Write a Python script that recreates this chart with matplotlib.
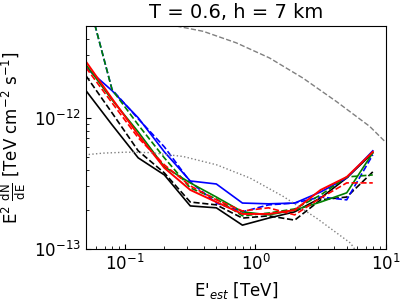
import numpy as np
import matplotlib
matplotlib.use("Agg")
import matplotlib.pyplot as plt

# energy bins [TeV]
energy = [0.0501, 0.0794, 0.126, 0.200, 0.316, 0.501, 0.794, 1.26, 2.00, 3.16, 5.01, 7.94]

# sensitivity curves [1e-12 TeV cm^-2 s^-1]
black_solid = [1.61, 0.884, 0.495, 0.367, 0.213, 0.206, 0.152, 0.172, 0.192, 0.245, 0.348, 0.541]
black_dash  = [2.09, 1.09, 0.560, 0.380, 0.228, 0.217, 0.172, 0.179, 0.166, 0.237, 0.249, 0.387]
red_solid   = [2.68, 1.40, 0.742, 0.415, 0.282, 0.228, 0.185, 0.185, 0.198, 0.282, 0.354, 0.550]
red_dash    = [2.41, 1.30, 0.704, 0.438, 0.303, 0.237, 0.195, 0.206, 0.182, 0.245, 0.319, 0.319]
green_solid = [2.54, 1.37, 0.782, 0.423, 0.319, 0.249, 0.192, 0.182, 0.198, 0.228, 0.268, 0.541]
green_dash  = [9.2, 1.64, 0.884, 0.495, 0.292, 0.241, 0.179, 0.188, 0.202, 0.258, 0.354, 0.367]
blue_solid  = [2.41, 1.61, 1.00, 0.550, 0.330, 0.313, 0.224, 0.221, 0.224, 0.272, 0.348, 0.560]
blue_dash   = [9.2, 1.64, 0.983, 0.600, 0.325, 0.224, 0.192, 0.217, 0.224, 0.249, 0.237, 0.522]

# reference spectra
ref1_energy = [0.218, 0.398, 0.711, 1.28, 2.31, 4.18, 7.53, 9.82]
ref1_flux   = [5.13e-12, 4.56e-12, 3.73e-12, 2.86e-12, 2.01e-12, 1.33e-12, 8.59e-13, 6.61e-13]
ref2_energy = [0.0492, 0.0678, 0.102, 0.155, 0.279, 0.504, 0.910, 1.64, 2.96, 5.35, 5.98, 8.0]
ref2_flux   = [5.22e-13, 5.38e-13, 5.47e-13, 5.43e-13, 5.07e-13, 4.38e-13, 3.47e-13,
               2.51e-13, 1.71e-13, 1.11e-13, 9.5e-14, 6.3e-14]

series = [
    (black_solid, 'k', '-', 1.2),
    (black_dash, 'k', '--', 1.2),
    (blue_solid, 'b', '-', 1.2),
    (blue_dash, 'b', '--', 1.2),
    (green_solid, 'g', '-', 1.2),
    (green_dash, 'g', '--', 1.2),
    (red_dash, 'r', '--', 1.2),
    (red_solid, 'r', '-', 1.4),
]

fig = plt.figure(figsize=(4.07, 3.0), dpi=100)
ax = fig.add_axes([0.211, 0.17, 0.737, 0.743])

e = np.array(energy)
for vals, c, ls, lw in series:
    ax.plot(e, np.array(vals) * 1e-12, color=c, ls=ls, lw=lw)

ax.plot(ref1_energy, ref1_flux, color='gray', ls='--', lw=1.0)
ax.plot(ref2_energy, ref2_flux, color='gray', ls=':', lw=1.0)

ax.set_xscale('log')
ax.set_yscale('log')
ax.set_xlim(0.05, 10)
ax.set_ylim(1e-13, 5e-12)
ax.tick_params(which='both', direction='in', labelsize=12)
ax.set_title('T = 0.6, h = 7 km', fontsize=14)
ax.set_xlabel(r"E$'_{est}$ [TeV]", fontsize=12)
ax.set_ylabel(r"E$^2$ $\frac{\mathrm{dN}}{\mathrm{dE}}$ [TeV cm$^{-2}$ s$^{-1}$]", fontsize=12)

fig.savefig('out.png', dpi=100)
